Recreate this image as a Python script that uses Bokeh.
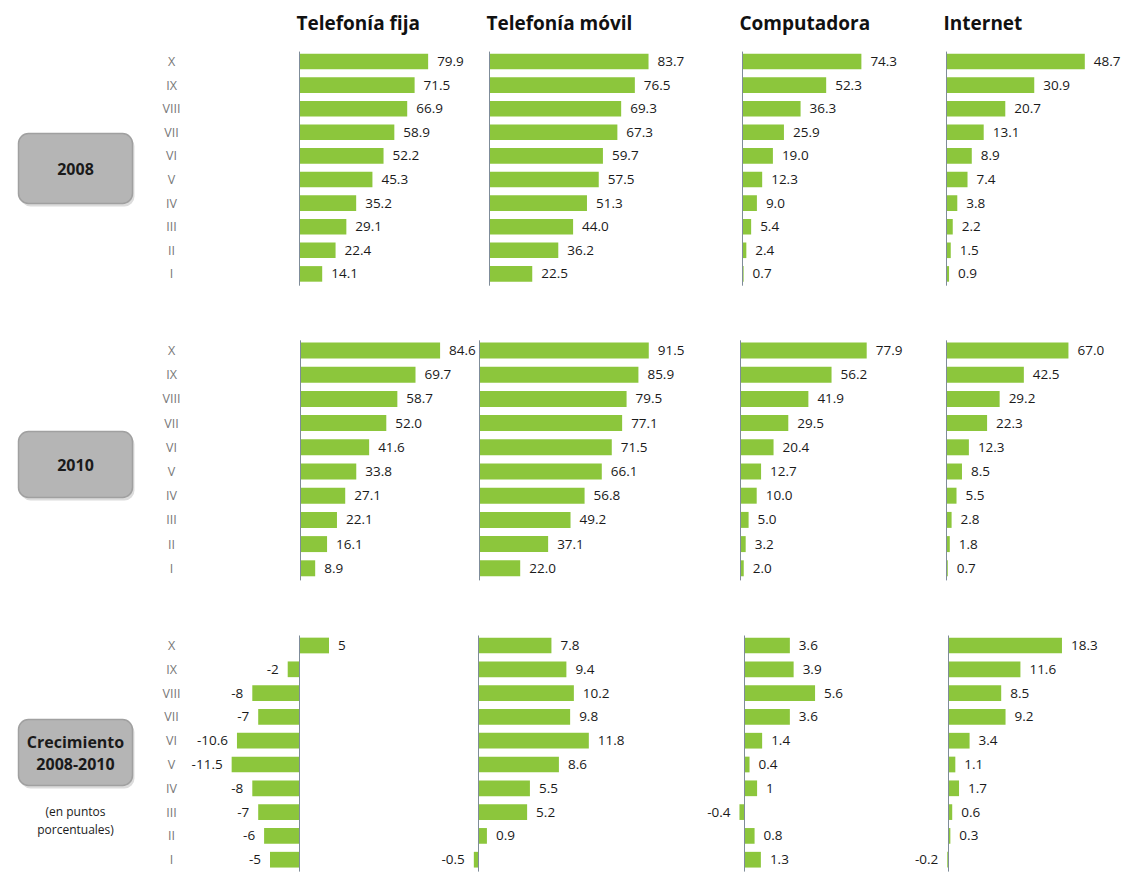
from bokeh.plotting import figure
from bokeh.models import Range1d, ColumnDataSource
from bokeh.embed import file_html
from bokeh.resources import INLINE
from bokeh.core.properties import value

# ---------------- data ----------------
categories = ["X", "IX", "VIII", "VII", "VI", "V", "IV", "III", "II", "I"]
column_titles = ["Telefonía fija", "Telefonía móvil", "Computadora", "Internet"]
row_titles = [["2008"], ["2010"], ["Crecimiento", "2008-2010"]]
note_lines = ["(en puntos", "porcentuales)"]

fija_2008 = [79.9, 71.5, 66.9, 58.9, 52.2, 45.3, 35.2, 29.1, 22.4, 14.1]
movil_2008 = [83.7, 76.5, 69.3, 67.3, 59.7, 57.5, 51.3, 44.0, 36.2, 22.5]
comp_2008 = [74.3, 52.3, 36.3, 25.9, 19.0, 12.3, 9.0, 5.4, 2.4, 0.7]
internet_2008 = [48.7, 30.9, 20.7, 13.1, 8.9, 7.4, 3.8, 2.2, 1.5, 0.9]

fija_2010 = [84.6, 69.7, 58.7, 52.0, 41.6, 33.8, 27.1, 22.1, 16.1, 8.9]
movil_2010 = [91.5, 85.9, 79.5, 77.1, 71.5, 66.1, 56.8, 49.2, 37.1, 22.0]
comp_2010 = [77.9, 56.2, 41.9, 29.5, 20.4, 12.7, 10.0, 5.0, 3.2, 2.0]
internet_2010 = [67.0, 42.5, 29.2, 22.3, 12.3, 8.5, 5.5, 2.8, 1.8, 0.7]

fija_growth = [5, -2, -8, -7, -10.6, -11.5, -8, -7, -6, -5]
movil_growth = [7.8, 9.4, 10.2, 9.8, 11.8, 8.6, 5.5, 5.2, 0.9, -0.5]
comp_growth = [3.6, 3.9, 5.6, 3.6, 1.4, 0.4, 1, -0.4, 0.8, 1.3]
internet_growth = [18.3, 11.6, 8.5, 9.2, 3.4, 1.1, 1.7, 0.6, 0.3, -0.2]

rows_data = [
    [fija_2008, movil_2008, comp_2008, internet_2008],
    [fija_2010, movil_2010, comp_2010, internet_2010],
    [fija_growth, movil_growth, comp_growth, internet_growth],
]

# ---------------- layout (pixels) ----------------
W, H = 1127, 880
ROW_GEOM = [(61, 23.6), (350, 24.2), (645, 23.8)]           # y of first bar, row spacing
COL_GEOM = [
    [(299, 1.61), (489, 1.90), (742, 1.60), (946, 2.84)],
    [(300, 1.65), (479, 1.85), (740, 1.62), (946, 1.82)],
    [(299, 5.9), (478, 9.35), (744, 12.6), (948, 6.2)],
]
BOX_GEOM = [(133, 203), (431, 497), (719, 785)]
BOX_X = (18, 132)
LABEL_X = 171
TITLE_Y = 22

GREEN = "#8cc63c"
AXIS_COLOR = "#7f8c99"
TEXT_COLOR = "#1a1a1a"
FONT = "Open Sans"

p = figure(width=W, height=H, output_backend="svg", toolbar_location=None,
           x_range=Range1d(0, W), y_range=Range1d(H, 0), min_border=0,
           x_axis_location=None, y_axis_location=None)
p.grid.visible = False
p.outline_line_color = None
p.background_fill_color = "white"
p.border_fill_color = "white"

idx = list(range(len(categories)))

for i, (y0, dy) in enumerate(ROW_GEOM):
    yname = f"y{i}"
    yb = -y0 / dy
    p.extra_y_ranges[yname] = Range1d(yb + H / dy, yb)

    # category labels
    p.text(x=[LABEL_X] * len(categories), y=idx, text=categories, y_range_name=yname,
           text_font=value(FONT), text_font_size="12.5px", text_color="#777777",
           text_align="center", text_baseline="middle")

    for j, vals in enumerate(rows_data[i]):
        px0, k = COL_GEOM[i][j]
        xname = f"x{i}{j}"
        xs = -px0 / k
        p.extra_x_ranges[xname] = Range1d(xs, xs + W / k)

        if i < 2:
            labels = [f"{v:.1f}" for v in vals]
        else:
            labels = [f"{v:g}" for v in vals]
        src = ColumnDataSource(dict(
            idx=idx, val=vals, label=labels,
            align=["left" if v >= 0 else "right" for v in vals],
            xoff=[9 if v >= 0 else -9 for v in vals],
        ))
        p.hbar(y="idx", left=0, right="val", height=0.66, source=src,
               x_range_name=xname, y_range_name=yname,
               fill_color=GREEN, line_color=None)
        p.segment(x0=[0], x1=[0], y0=[-0.42], y1=[9.5],
                  x_range_name=xname, y_range_name=yname,
                  line_color=AXIS_COLOR, line_width=1)
        p.text(x="val", y="idx", text="label", source=src,
               x_range_name=xname, y_range_name=yname,
               text_align="align", x_offset="xoff", text_baseline="middle",
               text_font=value(FONT), text_font_size="13.5px", text_color=TEXT_COLOR)

# column titles
for j, t in enumerate(column_titles):
    p.text(x=[COL_GEOM[0][j][0] - 3], y=[TITLE_Y], text=[t],
           text_font=value(FONT), text_font_style="bold", text_font_size="19px",
           text_color="#111111", text_align="left", text_baseline="middle")

# grey boxes on the left
for (top, bottom), lines in zip(BOX_GEOM, row_titles):
    p.quad(left=[BOX_X[0] + 2], right=[BOX_X[1] + 2], top=[top + 3], bottom=[bottom + 3],
           fill_color="#dcdcdc", line_color=None, border_radius=10)
    p.quad(left=[BOX_X[0]], right=[BOX_X[1]], top=[top], bottom=[bottom],
           fill_color="#b5b5b5", line_color="#a0a0a0", line_width=1.5, border_radius=10)
    cx = (BOX_X[0] + BOX_X[1]) / 2
    cy = (top + bottom) / 2
    n = len(lines)
    ys = [cy + (m - (n - 1) / 2) * 22 for m in range(n)]
    p.text(x=[cx] * n, y=ys, text=lines,
           text_font=value(FONT), text_font_style="bold", text_font_size="16px",
           text_color=TEXT_COLOR, text_align="center", text_baseline="middle")

p.text(x=[(BOX_X[0] + BOX_X[1]) / 2] * 2, y=[811, 829], text=note_lines,
       text_font=value(FONT), text_font_size="12px", text_color=TEXT_COLOR,
       text_align="center", text_baseline="middle")

open("out.html", "w").write(file_html(p, INLINE))
